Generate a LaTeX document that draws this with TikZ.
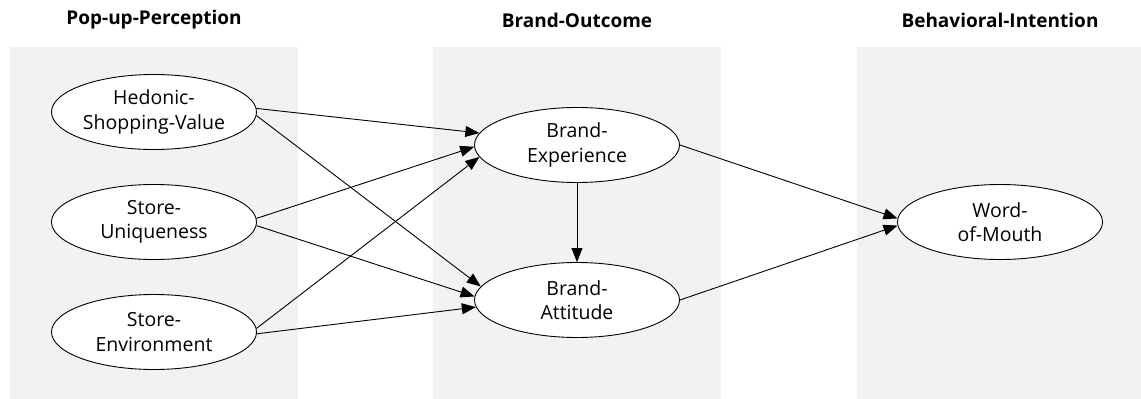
\documentclass[tikz,border=0pt]{standalone}
\usepackage{fontspec}
\setmainfont{Open Sans}
\usetikzlibrary{shapes.geometric,arrows.meta}
\begin{document}
\begin{tikzpicture}[x=1pt,y=-1pt,
  panel/.style={fill=black!5,draw=none},
  title/.style={font=\fontsize{19}{22}\selectfont\bfseries,anchor=center},
  construct/.style={ellipse,draw=black,fill=white,line width=0.9pt,inner sep=0pt,
    minimum width=205pt,minimum height=75pt,align=center,
    font=\fontsize{19.5}{24.5}\selectfont},
  link/.style={line width=0.9pt,-{Triangle[length=14pt,width=11pt]}}
]
\fill[white] (0,0) rectangle (1141,399);
\useasboundingbox (0,0) rectangle (1141,399);
\fill[panel] (10,47) rectangle (298,399);
\fill[panel] (433,47) rectangle (721,399);
\fill[panel] (857,47) rectangle (1141,399);
\node[title] (t1) at (154,20) {Pop-up-Perception};
\node[title] (t2) at (577,20) {Brand-Outcome};
\node[title] (t3) at (1000,20) {Behavioral-Intention};
\node[construct] (hsv) at (154,112) {Hedonic-\\Shopping-Value};
\node[construct] (su) at (154,222) {Store-\\Uniqueness};
\node[construct] (se) at (154,332) {Store-\\Environment};
\node[construct] (be) at (577,145) {Brand-\\Experience};
\node[construct] (ba) at (577,300) {Brand-\\Attitude};
\node[construct] (wom) at (1000,222) {Word-\\of-Mouth};
\draw[link] (hsv.2) -- (be.173);
\draw[link] (hsv.-2) -- (ba.172);
\draw[link] (su.2) -- (be.181);
\draw[link] (su.-2) -- (ba.178);
\draw[link] (se.2) -- (be.187);
\draw[link] (se.-1) -- (ba.184);
\draw[link] (be.south) -- (ba.north);
\draw[link] (be.0) -- (wom.178);
\draw[link] (ba.0) -- (wom.182);
\end{tikzpicture}
\end{document}
